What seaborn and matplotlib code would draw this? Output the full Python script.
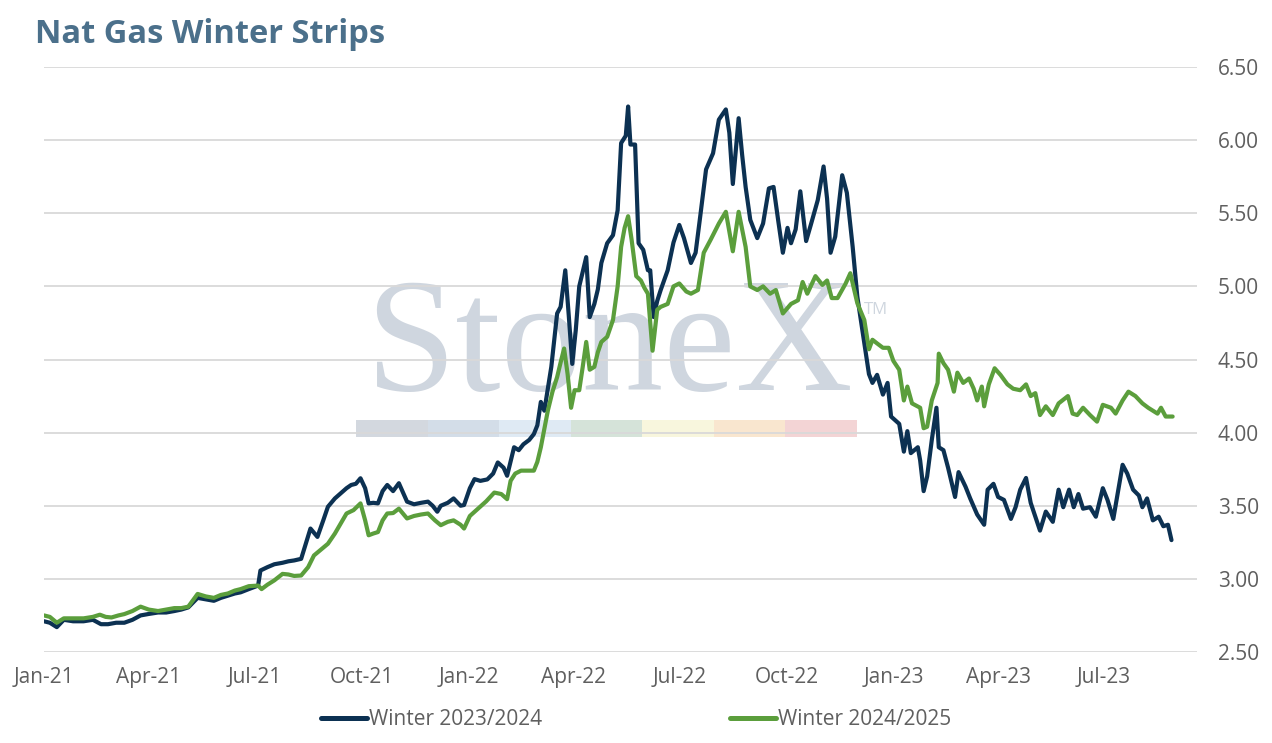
import pandas as pd
import seaborn as sns
import matplotlib.pyplot as plt
import matplotlib.dates as mdates
from matplotlib.patches import Rectangle
from matplotlib.ticker import MultipleLocator, FuncFormatter

start = pd.Timestamp("2021-01-01")

# days since 1 Jan 2021 and strip prices
w2324_days = [0, 5, 11, 17, 25, 34, 42, 49, 55, 62, 69, 76, 83, 90, 98, 105, 112, 118, 124, 132,
              139, 146, 152, 158, 164, 169, 176, 184, 186, 192, 198, 205, 210, 215, 221, 229, 235, 240, 244, 250,
              255, 260, 264, 268, 272, 276, 279, 283, 287, 291, 295, 300, 305, 312, 318, 324, 330, 334, 338, 341,
              347, 352, 358, 361, 366, 370, 375, 381, 386, 390, 395, 398, 404, 408, 412, 417, 421, 424, 427, 430,
              433, 436, 441, 444, 448, 451, 454, 457, 460, 463, 466, 469, 473, 476, 479, 484, 489, 493, 496, 500,
              502, 504, 508, 511, 515, 519, 521, 524, 527, 530, 536, 541, 546, 550, 556, 560, 564, 569, 575, 580,
              586, 589, 592, 597, 600, 603, 607, 613, 618, 623, 627, 631, 635, 639, 642, 646, 650, 655, 659, 665,
              670, 673, 676, 680, 686, 690, 695, 699, 705, 709, 712, 716, 721, 725, 728, 735, 739, 742, 745, 751,
              753, 756, 759, 763, 767, 769, 773, 777, 783, 786, 792, 796, 802, 808, 811, 816, 820, 825, 831, 835,
              839, 844, 848, 852, 856, 861, 867, 872, 876, 881, 885, 889, 893, 899, 904, 910, 914, 919, 927, 931,
              936, 941, 944, 948, 953, 958, 962, 966, 969]
w2324_vals = [2.71, 2.70, 2.67, 2.72, 2.71, 2.71, 2.72, 2.69, 2.69, 2.70, 2.70, 2.72, 2.75, 2.76, 2.77, 2.77, 2.78, 2.79, 2.805, 2.87,
              2.86, 2.85, 2.87, 2.885, 2.90, 2.908, 2.93, 2.954, 3.057, 3.08, 3.10, 3.11, 3.12, 3.126, 3.137, 3.344, 3.287, 3.40, 3.493, 3.55,
              3.585, 3.62, 3.642, 3.65, 3.688, 3.62, 3.516, 3.52, 3.516, 3.60, 3.642, 3.60, 3.654, 3.528, 3.51, 3.52, 3.528, 3.50, 3.459, 3.50,
              3.52, 3.55, 3.50, 3.505, 3.62, 3.682, 3.67, 3.68, 3.72, 3.796, 3.76, 3.705, 3.90, 3.88, 3.92, 3.95, 3.99, 4.05, 4.21, 4.15,
              4.30, 4.45, 4.815, 4.86, 5.11, 4.80, 4.47, 4.70, 5.00, 5.10, 5.20, 4.79, 4.88, 4.98, 5.16, 5.295, 5.35, 5.52, 5.98, 6.03,
              6.23, 5.97, 5.97, 5.295, 5.25, 5.11, 5.11, 4.79, 4.90, 4.975, 5.11, 5.30, 5.42, 5.33, 5.16, 5.23, 5.48, 5.80, 5.91, 6.14,
              6.21, 6.05, 5.70, 6.15, 5.90, 5.68, 5.455, 5.33, 5.43, 5.67, 5.68, 5.45, 5.23, 5.40, 5.295, 5.39, 5.65, 5.31, 5.42, 5.59,
              5.82, 5.60, 5.23, 5.34, 5.76, 5.64, 5.27, 4.93, 4.61, 4.40, 4.34, 4.395, 4.26, 4.34, 4.11, 4.06, 3.87, 4.01, 3.86, 3.90,
              3.81, 3.60, 3.70, 3.95, 4.17, 3.90, 3.88, 3.76, 3.56, 3.73, 3.63, 3.55, 3.44, 3.37, 3.61, 3.65, 3.56, 3.54, 3.41, 3.49,
              3.61, 3.69, 3.52, 3.425, 3.33, 3.46, 3.39, 3.61, 3.49, 3.61, 3.49, 3.58, 3.48, 3.49, 3.425, 3.62, 3.54, 3.41, 3.78, 3.72,
              3.61, 3.57, 3.49, 3.55, 3.40, 3.425, 3.36, 3.37, 3.265]

w2425_days = [0, 5, 11, 17, 25, 34, 42, 48, 53, 58, 64, 69, 76, 83, 90, 98, 105, 112, 118, 124,
              132, 139, 146, 152, 158, 164, 169, 176, 184, 187, 192, 198, 205, 210, 215, 221, 227, 232, 238, 244,
              250, 255, 260, 266, 272, 276, 279, 283, 287, 291, 295, 300, 305, 312, 318, 324, 330, 336, 341, 347,
              352, 358, 361, 366, 373, 380, 387, 393, 398, 401, 405, 410, 416, 421, 424, 427, 433, 437, 441, 444,
              447, 450, 453, 456, 460, 463, 466, 469, 473, 476, 479, 484, 489, 493, 496, 499, 502, 505, 509, 513,
              516, 519, 523, 527, 530, 536, 541, 546, 552, 556, 562, 567, 573, 580, 586, 592, 597, 603, 607, 613,
              618, 624, 629, 635, 642, 648, 652, 656, 663, 669, 673, 677, 682, 689, 693, 699, 705, 709, 712, 716,
              721, 726, 730, 735, 739, 742, 746, 753, 756, 759, 763, 768, 769, 773, 777, 782, 785, 790, 795, 799,
              802, 806, 808, 812, 817, 822, 828, 833, 839, 844, 848, 852, 856, 861, 867, 872, 880, 884, 888, 893,
              899, 905, 910, 917, 921, 927, 932, 938, 944, 949, 957, 960, 964, 970]
w2425_vals = [2.75, 2.74, 2.70, 2.73, 2.73, 2.73, 2.74, 2.755, 2.74, 2.736, 2.75, 2.759, 2.78, 2.81, 2.79, 2.78, 2.79, 2.80, 2.80, 2.81,
              2.897, 2.88, 2.87, 2.89, 2.90, 2.92, 2.93, 2.95, 2.954, 2.93, 2.96, 2.99, 3.034, 3.03, 3.02, 3.023, 3.08, 3.16, 3.20, 3.24,
              3.31, 3.378, 3.447, 3.47, 3.516, 3.40, 3.298, 3.31, 3.32, 3.40, 3.447, 3.45, 3.48, 3.413, 3.43, 3.44, 3.447, 3.40, 3.367, 3.39,
              3.40, 3.37, 3.344, 3.43, 3.48, 3.53, 3.59, 3.58, 3.545, 3.67, 3.72, 3.74, 3.74, 3.74, 3.80, 3.90, 4.15, 4.28, 4.38, 4.48,
              4.575, 4.40, 4.17, 4.29, 4.29, 4.45, 4.62, 4.43, 4.45, 4.55, 4.62, 4.655, 4.77, 5.00, 5.27, 5.40, 5.48, 5.32, 5.07, 5.04,
              4.99, 4.95, 4.56, 4.84, 4.86, 4.88, 5.00, 5.02, 4.965, 4.95, 4.975, 5.23, 5.32, 5.43, 5.51, 5.24, 5.51, 5.27, 5.00, 4.975,
              5.00, 4.95, 4.975, 4.815, 4.88, 4.905, 5.03, 4.95, 5.07, 5.01, 5.04, 4.92, 4.92, 5.02, 5.09, 4.885, 4.77, 4.57, 4.635, 4.61,
              4.58, 4.58, 4.49, 4.43, 4.22, 4.315, 4.20, 4.17, 4.03, 4.04, 4.22, 4.34, 4.54, 4.475, 4.43, 4.28, 4.41, 4.34, 4.37, 4.30,
              4.22, 4.315, 4.18, 4.33, 4.44, 4.395, 4.33, 4.30, 4.29, 4.33, 4.25, 4.27, 4.12, 4.18, 4.12, 4.20, 4.25, 4.13, 4.12, 4.17,
              4.12, 4.075, 4.19, 4.17, 4.13, 4.22, 4.28, 4.25, 4.20, 4.17, 4.13, 4.17, 4.11, 4.11]

series_names = ["Winter 2023/2024", "Winter 2024/2025"]
line_colors = ["#0c3152", "#5b9e3c"]
logo_colors = ["#d3d8df", "#d3dde8", "#dfeaf4", "#d5e3d9", "#f8f6dd", "#f9e6cf", "#f3d4d5"]

df = pd.concat([
    pd.DataFrame({"date": start + pd.to_timedelta(w2324_days, unit="D"),
                  "price": w2324_vals, "strip": series_names[0]}),
    pd.DataFrame({"date": start + pd.to_timedelta(w2425_days, unit="D"),
                  "price": w2425_vals, "strip": series_names[1]}),
], ignore_index=True)

sns.set_theme(style="white")
plt.rcParams["font.family"] = ["Open Sans", "DejaVu Sans"]

fig = plt.figure(figsize=(12.72, 7.43), dpi=100)
ax = fig.add_axes([0.0346, 0.1225, 0.9065, 0.7873])

# faded logo watermark behind everything
ax.text(0.49, 0.448, "StoneX", transform=ax.transAxes, ha="center", va="baseline",
        fontsize=117, family="Liberation Serif", color="#cfd6df", zorder=0.1)
ax.text(0.711, 0.585, "TM", transform=ax.transAxes, ha="left", va="center",
        fontsize=12, color="#cfd6df", zorder=0.1)
for i, c in enumerate(logo_colors):
    ax.add_patch(Rectangle((0.271 + i * 0.062, 0.3675), 0.062, 0.029, transform=ax.transAxes,
                           facecolor=c, lw=0, zorder=0.1))

sns.lineplot(data=df, x="date", y="price", hue="strip", hue_order=series_names,
             palette=line_colors, linewidth=3.0, ax=ax, errorbar=None)

ax.set_ylim(2.5, 6.5)
ax.set_xlim(start, start + pd.Timedelta(days=991))
ax.yaxis.tick_right()
ax.yaxis.set_major_locator(MultipleLocator(0.5))
ax.yaxis.set_major_formatter(FuncFormatter(lambda v, p: f"{v:.2f}"))
ax.xaxis.set_major_locator(mdates.MonthLocator(bymonth=[1, 4, 7, 10]))
ax.xaxis.set_major_formatter(mdates.DateFormatter("%b-%y"))
ax.grid(axis="y", color="#d9d9d9", linewidth=1.3)
ax.grid(axis="x", visible=False)
for s in ax.spines.values():
    s.set_visible(False)
ax.tick_params(axis="y", length=0, pad=15, labelsize=15, labelcolor="#5f5f5f")
ax.tick_params(axis="x", length=0, pad=11, labelsize=15, labelcolor="#5f5f5f")
ax.set_xlabel("")
ax.set_ylabel("")

handles, labels = ax.get_legend_handles_labels()
ax.get_legend().remove()
leg = fig.legend(handles, labels, loc="center", bbox_to_anchor=(0.5, 0.031), ncol=2, frameon=False,
                 fontsize=15, handlelength=2.2, handletextpad=0.1, columnspacing=9.0)
for t in leg.get_texts():
    t.set_color("#5f5f5f")
for h in leg.get_lines():
    h.set_linewidth(3.6)

fig.text(0.0275, 0.953, "Nat Gas Winter Strips", fontsize=23.5, fontweight="bold",
         color="#4b708b", ha="left", va="center")

fig.savefig("out.png", dpi=100)
